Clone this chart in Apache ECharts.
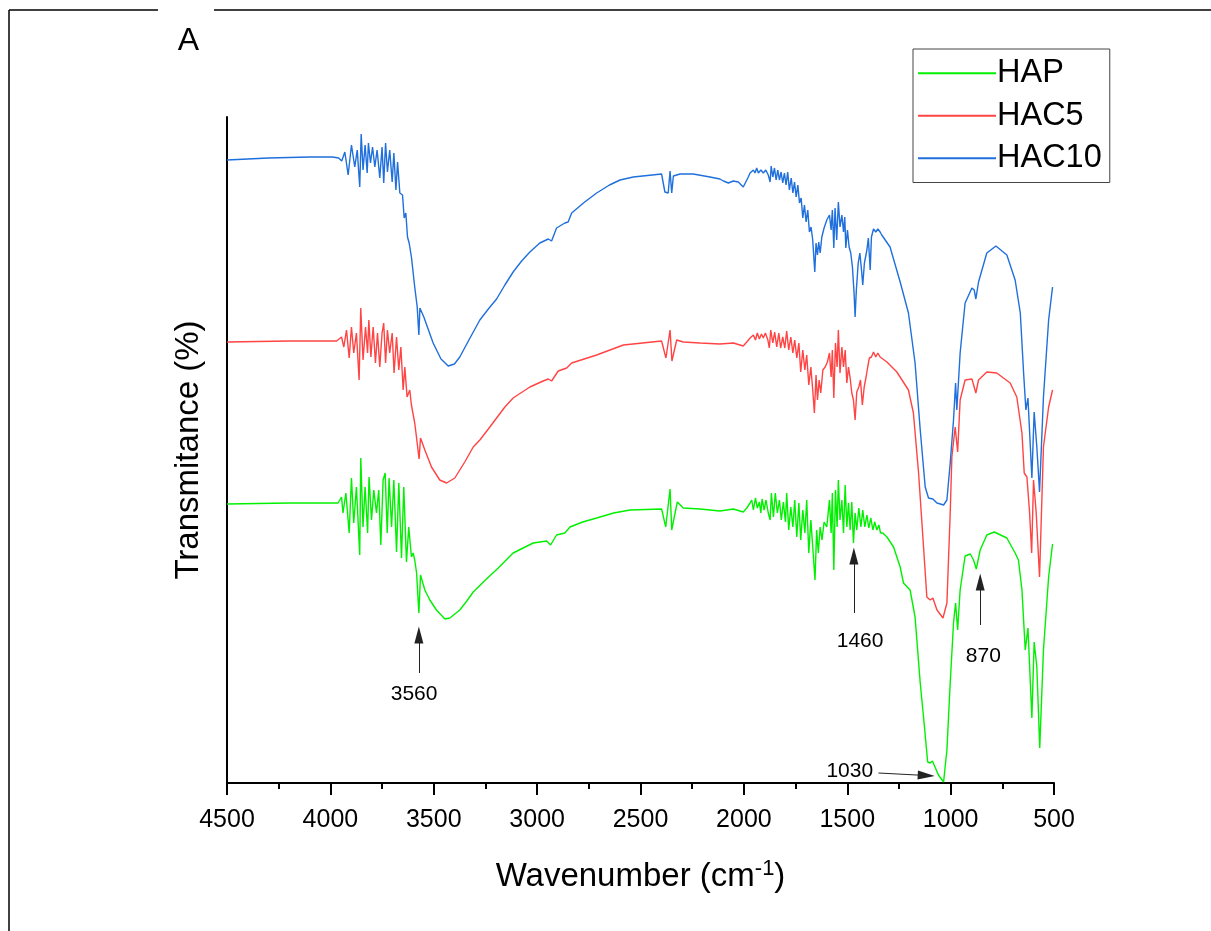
<!DOCTYPE html>
<html>
<head>
<meta charset="utf-8">
<script src="https://cdn.jsdelivr.net/npm/echarts@6/dist/echarts.min.js"></script>
<style>
html,body{margin:0;padding:0;background:#fff;}
#chart{width:1211px;height:931px;}
</style>
</head>
<body>
<div id="chart"></div>
<script>
// FTIR spectra: [wavenumber (cm-1), transmittance (arbitrary units, curves offset)]
const seriesNames = ['HAP', 'HAC5', 'HAC10'];
const seriesColors = ['#00f000', '#ff4444', '#1f6fdc'];

const hac10 = [
[4500,623],[4300,625],[4100,626],[3990,626],[3960,625],[3945,622],[3930,631],[3914,608],[3898,638],[3882,616],[3870,633],[3858,596],[3851,649],[3842,613],[3832,638],[3822,610],[3816,640],[3806,620],[3796,636],[3785,616],[3774,633],[3761,605],[3750,636],[3742,600],[3733,640],[3724,611],[3713,633],[3701,601],[3693,630],[3683,593],[3675,621],[3664,590],[3651,588],[3643,565],[3635,570],[3627,546],[3619,540],[3608,526],[3592,496],[3580,476],[3572,448],[3567,475],[3548,466],[3503,440],[3465,424],[3430,417],[3400,419],[3374,426],[3330,443],[3277,463],[3236,474],[3196,484],[3156,498],[3116,511],[3075,522],[3035,531],[2987,540],[2946,544],[2930,542],[2906,555],[2866,560],[2850,561],[2833,570],[2770,581],[2712,590],[2650,598],[2599,603],[2535,606],[2398,609],[2382,591],[2366,590],[2357,612],[2349,590],[2341,607],[2309,609],[2245,609],[2164,606],[2116,604],[2099,602],[2075,600],[2051,602],[2027,601],[2003,596],[1981,605],[1970,610],[1962,611],[1954,613],[1946,610],[1938,615],[1930,610],[1918,613],[1906,610],[1894,613],[1882,608],[1873,601],[1868,617],[1860,606],[1852,615],[1844,603],[1836,613],[1828,603],[1820,611],[1812,600],[1804,610],[1796,598],[1788,611],[1780,593],[1771,605],[1763,590],[1755,601],[1747,586],[1739,598],[1731,580],[1723,585],[1715,565],[1707,578],[1699,561],[1691,573],[1683,551],[1675,556],[1667,543],[1657,511],[1651,540],[1644,528],[1638,541],[1631,530],[1623,546],[1612,555],[1599,563],[1586,568],[1578,553],[1572,573],[1565,535],[1559,575],[1551,543],[1543,581],[1535,556],[1526,568],[1518,551],[1512,566],[1507,535],[1499,553],[1491,536],[1483,530],[1475,516],[1467,490],[1462,466],[1456,493],[1447,520],[1439,530],[1431,513],[1425,498],[1417,520],[1405,533],[1398,545],[1389,513],[1383,546],[1373,554],[1362,551],[1352,554],[1341,551],[1333,548],[1293,536],[1244,501],[1204,470],[1172,420],[1147,353],[1123,296],[1107,285],[1086,284],[1066,280],[1034,278],[1018,283],[1002,320],[986,363],[976,400],[970,373],[954,430],[930,480],[897,495],[886,493],[878,484],[865,501],[825,530],[781,537],[728,528],[688,503],[663,470],[647,410],[636,373],[626,385],[607,305],[596,371],[583,336],[570,291],[551,386],[526,463],[507,496]
];

const hac5 = [
[4500,441],[4200,442],[3970,442],[3946,446],[3935,436],[3922,453],[3909,425],[3898,456],[3887,430],[3874,450],[3861,403],[3853,475],[3842,423],[3830,456],[3820,430],[3814,463],[3804,426],[3793,456],[3782,420],[3772,450],[3761,416],[3750,450],[3742,460],[3733,420],[3724,453],[3713,430],[3701,450],[3692,410],[3680,446],[3669,413],[3659,436],[3648,393],[3640,416],[3629,386],[3616,393],[3608,378],[3592,360],[3583,345],[3571,324],[3564,345],[3543,333],[3511,316],[3471,303],[3438,300],[3398,305],[3350,321],[3309,336],[3277,343],[3236,354],[3196,365],[3156,376],[3116,385],[3035,396],[2971,402],[2946,404],[2930,402],[2898,412],[2857,415],[2833,420],[2712,428],[2583,438],[2398,442],[2377,425],[2357,453],[2348,422],[2325,443],[2293,441],[2212,440],[2116,439],[2051,440],[2003,437],[1986,441],[1970,445],[1954,448],[1944,443],[1935,450],[1925,444],[1915,449],[1906,445],[1896,450],[1884,443],[1877,435],[1870,453],[1860,440],[1851,451],[1841,436],[1831,450],[1822,435],[1812,446],[1802,435],[1793,452],[1783,433],[1773,446],[1763,430],[1754,443],[1744,425],[1734,440],[1725,411],[1715,433],[1705,413],[1696,428],[1686,398],[1676,416],[1667,393],[1659,370],[1651,408],[1644,383],[1636,403],[1628,390],[1618,413],[1607,416],[1596,421],[1586,430],[1578,406],[1572,433],[1565,385],[1557,440],[1549,416],[1543,453],[1535,410],[1526,436],[1518,416],[1510,433],[1502,400],[1494,416],[1486,405],[1478,390],[1470,383],[1462,363],[1454,391],[1444,396],[1436,403],[1427,378],[1418,396],[1409,406],[1401,416],[1393,425],[1383,426],[1373,431],[1362,426],[1352,430],[1341,426],[1308,421],[1260,411],[1204,393],[1180,370],[1155,310],[1131,236],[1115,186],[1099,183],[1086,185],[1066,173],[1037,165],[1018,180],[1002,270],[994,326],[978,356],[966,331],[954,383],[930,403],[897,404],[878,390],[865,403],[825,411],[777,410],[712,400],[680,386],[655,350],[644,310],[631,306],[618,270],[608,230],[599,303],[586,270],[570,206],[551,336],[526,376],[507,393]
];

const hap = [
[4500,279],[4200,280],[3963,280],[3946,286],[3939,270],[3925,290],[3909,250],[3898,305],[3887,260],[3874,296],[3858,228],[3853,325],[3842,256],[3832,296],[3820,250],[3813,306],[3801,263],[3790,293],[3777,270],[3766,293],[3756,238],[3745,303],[3735,310],[3725,250],[3716,305],[3704,256],[3693,303],[3680,231],[3669,300],[3656,225],[3645,296],[3632,221],[3621,256],[3608,226],[3600,230],[3592,223],[3583,210],[3572,170],[3564,208],[3543,193],[3519,183],[3487,173],[3446,164],[3422,165],[3374,173],[3340,182],[3309,191],[3250,203],[3188,215],[3116,230],[3019,240],[2987,241],[2954,242],[2935,238],[2906,248],[2866,250],[2841,256],[2780,261],[2712,265],[2630,270],[2551,273],[2398,274],[2378,256],[2357,294],[2349,253],[2322,281],[2293,275],[2212,274],[2116,272],[2051,274],[2003,271],[1986,275],[1970,280],[1962,283],[1954,273],[1944,285],[1935,275],[1925,281],[1918,270],[1912,284],[1902,273],[1893,283],[1882,270],[1873,263],[1867,290],[1857,266],[1848,290],[1838,270],[1828,283],[1819,263],[1809,281],[1799,261],[1793,290],[1783,253],[1773,276],[1763,256],[1754,283],[1744,246],[1734,280],[1725,243],[1715,273],[1705,250],[1696,283],[1686,230],[1676,263],[1667,236],[1656,203],[1648,253],[1640,230],[1631,256],[1622,243],[1612,261],[1599,256],[1586,283],[1578,250],[1572,290],[1565,213],[1557,293],[1549,256],[1543,303],[1535,263],[1526,283],[1518,250],[1510,298],[1502,256],[1494,280],[1486,253],[1478,281],[1470,240],[1462,270],[1454,253],[1444,275],[1434,256],[1425,273],[1415,256],[1405,268],[1396,255],[1386,265],[1376,253],[1367,261],[1357,253],[1347,258],[1339,250],[1328,250],[1308,246],[1276,236],[1244,216],[1228,200],[1196,193],[1172,166],[1147,100],[1131,66],[1111,21],[1099,20],[1088,22],[1059,8],[1034,1],[1018,33],[1002,100],[986,160],[976,180],[966,153],[954,193],[930,227],[905,229],[889,223],[876,214],[857,233],[825,248],[789,251],[728,245],[688,230],[672,223],[655,193],[639,133],[626,155],[607,65],[596,141],[583,116],[569,35],[551,133],[526,206],[507,239]
];

// tick values shown on the wavenumber axis
const xTickValues = [4500, 4000, 3500, 3000, 2500, 2000, 1500, 1000, 500];

// annotation arrows: tail and head-centre points in data units
const arrows = [
  {from: [3572, 110], to: [3572, 148]},
  {from: [1468, 170], to: [1468, 227]},
  {from: [857, 158], to: [857, 201]},
  {from: [1349, 10], to: [1118, 7.5]}
];
// annotation texts: [wavenumber, value, text, align]
const notes = [
  [3595, 89, '3560', 'center'],
  [1438, 142, '1460', 'center'],
  [842, 126.5, '870', 'center'],
  [1375, 12, '1030', 'right']
];

const FONT = '"Liberation Sans", Arial, sans-serif';
const chart = echarts.init(document.getElementById('chart'), null, {renderer: 'canvas'});

const allData = [hap, hac5, hac10];
const series = seriesNames.map((name, i) => ({
  name: name,
  type: 'line',
  data: allData[i],
  showSymbol: false,
  symbol: 'none',
  lineStyle: {color: seriesColors[i], width: 1.4},
  itemStyle: {color: seriesColors[i]},
  animation: false,
  z: 2
}));

series[0].markLine = {
  silent: true,
  animation: false,
  symbol: ['none', 'triangle'],
  symbolSize: [9, 17],
  label: {show: false},
  lineStyle: {color: '#222', width: 1, type: 'solid'},
  data: arrows.map(a => [{coord: a.from}, {coord: a.to}])
};

chart.setOption({
  animation: false,
  backgroundColor: '#fff',
  grid: {left: 227, right: 157, top: 117, bottom: 148},
  legend: {
    data: seriesNames,
    orient: 'vertical',
    left: 913, top: 49,
    icon: 'rect',
    itemWidth: 78, itemHeight: 2,
    itemGap: 0,
    padding: [3, 8, 3, 5],
    borderColor: '#444', borderWidth: 1,
    selectedMode: false,
    textStyle: {fontFamily: FONT, fontSize: 32.5, color: '#000', lineHeight: 42.5, padding: [0, 0, 0, -4]}
  },
  xAxis: {
    type: 'value',
    inverse: true,
    min: 500, max: 4500, interval: 500,
    name: 'Wavenumber (cm{sup|-1})',
    nameLocation: 'middle',
    nameGap: 75,
    nameTextStyle: {
      fontFamily: FONT, fontSize: 33, color: '#000', verticalAlign: 'top',
      rich: {sup: {fontFamily: FONT, fontSize: 22, color: '#000', verticalAlign: 'top', padding: [0, 0, 16, 0]}}
    },
    axisLine: {onZero: false, lineStyle: {color: '#000', width: 2}},
    axisTick: {show: true, inside: false, length: 12, lineStyle: {color: '#000', width: 2}, customValues: xTickValues},
    minorTick: {show: true, splitNumber: 2, length: 6, lineStyle: {color: '#000', width: 2}},
    axisLabel: {fontFamily: FONT, fontSize: 25, color: '#000', margin: 25, customValues: xTickValues, formatter: v => String(v)},
    splitLine: {show: false}
  },
  yAxis: {
    type: 'value',
    min: 0, max: 666,
    name: 'Transmitance (%)',
    nameLocation: 'middle',
    nameRotate: 90,
    nameGap: 22,
    nameTextStyle: {fontFamily: FONT, fontSize: 33, color: '#000'},
    axisLine: {show: true, lineStyle: {color: '#000', width: 2}},
    axisTick: {show: false},
    axisLabel: {show: false},
    splitLine: {show: false}
  },
  series: series
});

const g = [
  {type: 'line', shape: {x1: 9, y1: 10, x2: 158, y2: 10}, style: {stroke: '#000', lineWidth: 1.5}},
  {type: 'line', shape: {x1: 214, y1: 10, x2: 1211, y2: 10}, style: {stroke: '#000', lineWidth: 1.5}},
  {type: 'line', shape: {x1: 9, y1: 10, x2: 9, y2: 931}, style: {stroke: '#000', lineWidth: 1.5}},
  {type: 'text', x: 188.5, y: 41, style: {text: 'A', font: '32px ' + FONT, fill: '#000', align: 'center', verticalAlign: 'middle'}}
];
notes.forEach(n => {
  const p = chart.convertToPixel({xAxisIndex: 0, yAxisIndex: 0}, [n[0], n[1]]);
  g.push({type: 'text', x: p[0], y: p[1], style: {text: n[2], font: '21px ' + FONT, fill: '#000', align: n[3], verticalAlign: 'middle'}});
});
chart.setOption({graphic: g});
</script>
</body>
</html>
